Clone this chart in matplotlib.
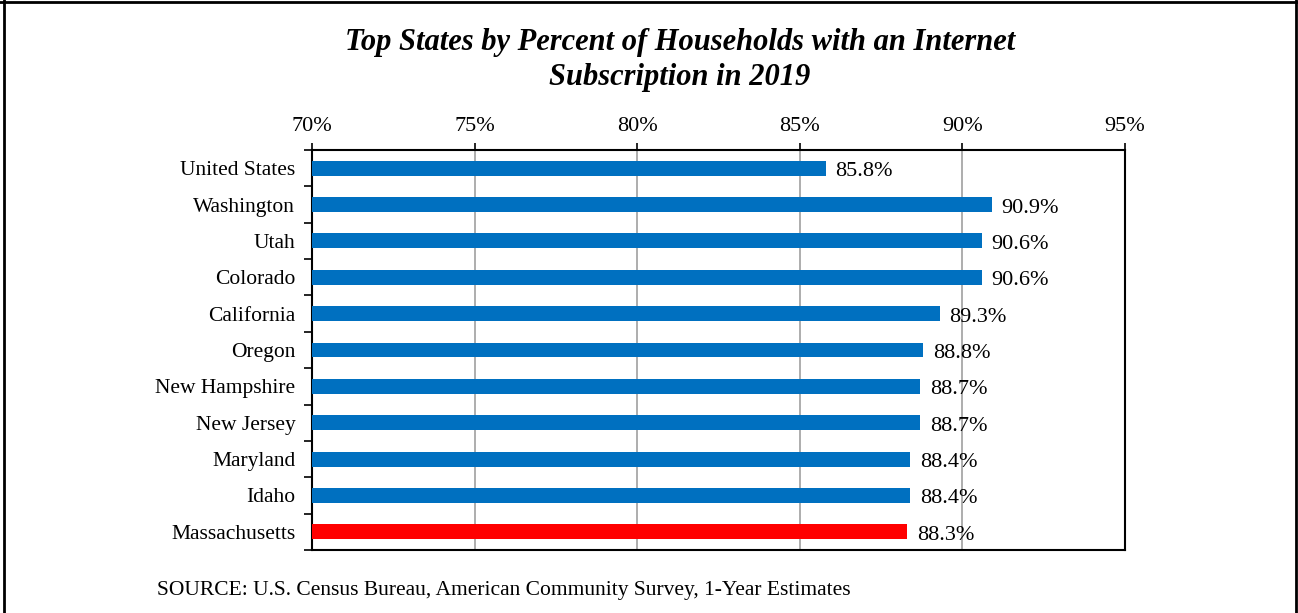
import matplotlib.pyplot as plt
import numpy as np

# Data
states = ['United States', 'Washington', 'Utah', 'Colorado', 'California', 'Oregon',
          'New Hampshire', 'New Jersey', 'Maryland', 'Idaho', 'Massachusetts']
pct = [85.8, 90.9, 90.6, 90.6, 89.3, 88.8, 88.7, 88.7, 88.4, 88.4, 88.3]
xticks = [70, 75, 80, 85, 90, 95]

plt.rcParams['font.family'] = ['Liberation Serif', 'DejaVu Serif']

fig = plt.figure(figsize=(12.98, 6.13), dpi=100)
ax = fig.add_axes([312 / 1298, 1 - 550 / 613, (1125 - 312) / 1298, 400 / 613])

colors = ['#0070C0'] * (len(states) - 1) + ['#FF0000']
y = np.arange(len(states))
ax.barh(y, [p - 70 for p in pct], left=70, height=0.41, color=colors, zorder=3)

for yi, p in zip(y, pct):
    ax.annotate(f'{p:.1f}%', (p, yi), xytext=(7, -2.5), textcoords='offset points',
                va='center', ha='left', fontsize=16, zorder=4)

ax.set_xlim(70, 95)
ax.set_ylim(len(states) - 0.5, -0.5)
ax.set_xticks(xticks)
ax.set_xticklabels([f'{t}%' for t in xticks], fontsize=16)
ax.xaxis.tick_top()
ax.tick_params(axis='x', direction='out', length=5, width=1.2, pad=5)

ax.set_yticks(y)
ax.set_yticklabels(states, fontsize=15.5)
ax.tick_params(axis='y', which='major', length=0, pad=12)
ax.set_yticks(np.arange(len(states) + 1) - 0.5, minor=True)
ax.tick_params(axis='y', which='minor', direction='out', length=6, width=1.2)

ax.grid(axis='x', color='#A0A0A0', linewidth=1.2, zorder=1)
for s in ax.spines.values():
    s.set_linewidth(1.5)
    s.set_color('black')

fig.text(680 / 1298, 1 - 60 / 613,
         'Top States by Percent of Households with an Internet\nSubscription in 2019',
         ha='center', va='center', fontsize=22, fontweight='bold', fontstyle='italic',
         linespacing=1.25)
fig.text(157 / 1298, 1 - 590 / 613,
         'SOURCE: U.S. Census Bureau, American Community Survey, 1-Year Estimates',
         ha='left', va='center', fontsize=15.5)

# outer frame (left, top, right)
frame_kw = dict(transform=fig.transFigure, color='black', linewidth=2, clip_on=False)
fig.add_artist(plt.Line2D([4 / 1298, 4 / 1298], [0, 1], **frame_kw))
fig.add_artist(plt.Line2D([0, 1], [1 - 1.5 / 613, 1 - 1.5 / 613], **frame_kw))
fig.add_artist(plt.Line2D([1296 / 1298, 1296 / 1298], [0, 1], **frame_kw))

plt.savefig('out.png', dpi=100)
